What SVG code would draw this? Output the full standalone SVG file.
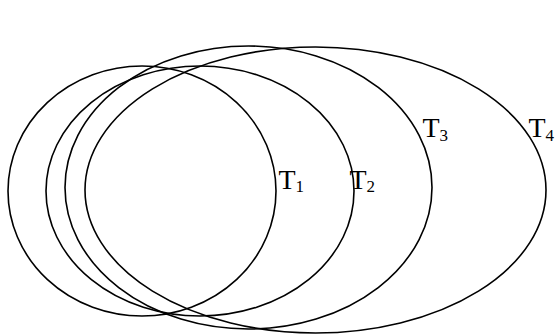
<svg xmlns="http://www.w3.org/2000/svg" width="557" height="335" viewBox="0 0 557 335">
<style>
.e{fill:none;stroke:#000;stroke-width:1.6}
.t{font-family:"Liberation Serif","Times New Roman",serif;font-size:28px;fill:#000}
.s{font-size:17px}
</style>
<rect width="557" height="335" fill="#fff"/>
<g id="T1"><ellipse class="e" cx="142" cy="191" rx="134" ry="125"/><text class="t" x="278.5" y="189">T<tspan class="s" dy="3">1</tspan></text></g>
<g id="T2"><ellipse class="e" cx="200" cy="191" rx="154" ry="125"/><text class="t" x="349.5" y="189">T<tspan class="s" dy="3">2</tspan></text></g>
<g id="T3"><ellipse class="e" cx="248.5" cy="187.5" rx="183.5" ry="141.5"/><text class="t" x="422.5" y="137">T<tspan class="s" dy="4">3</tspan></text></g>
<g id="T4"><ellipse class="e" cx="315.5" cy="190" rx="230.5" ry="143"/><text class="t" x="528.5" y="137">T<tspan class="s" dy="4">4</tspan></text></g>
<g id="connectors"/>
</svg>
